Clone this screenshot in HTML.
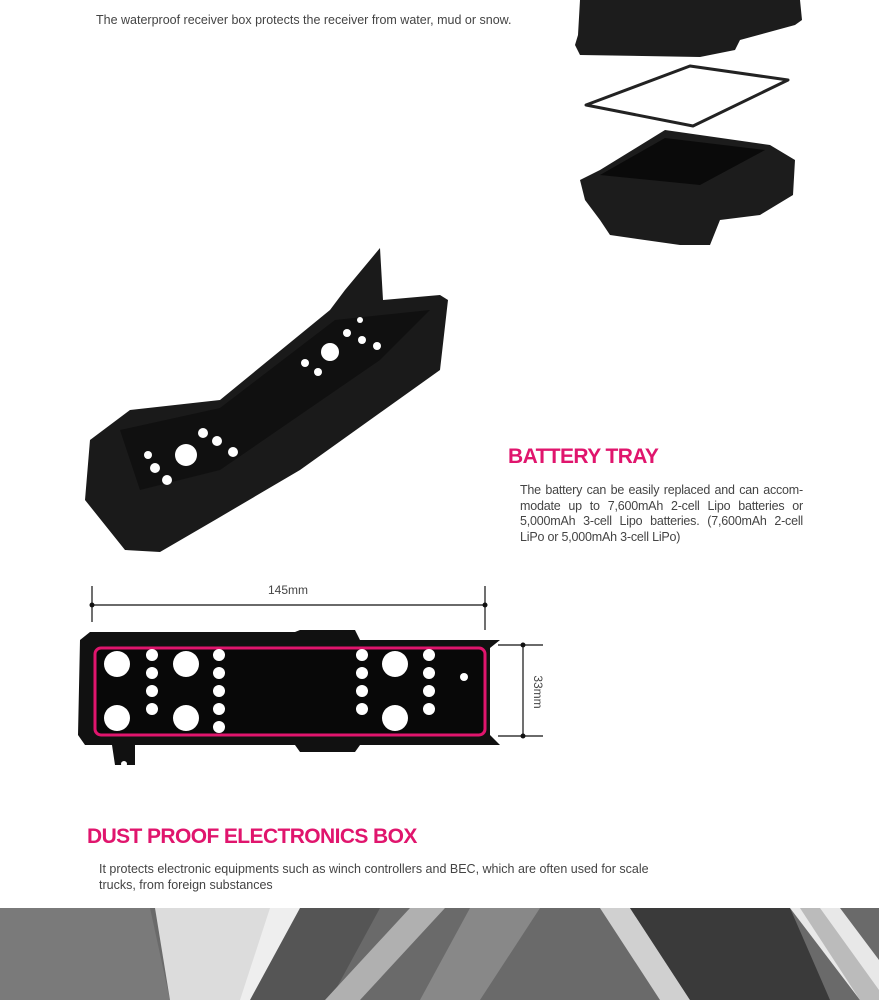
<!DOCTYPE html>
<html><head><meta charset="utf-8"><style>
body{margin:0;width:879px;height:1000px;background:#fff;overflow:hidden;position:relative;font-family:"Liberation Sans",sans-serif}
.t{position:absolute;color:#444;font-size:12.5px;line-height:15.5px}
.h{position:absolute;color:#e0156d;font-weight:bold;font-size:21px;letter-spacing:-0.6px}
.j{display:block;text-align:justify;text-align-last:justify;white-space:nowrap;letter-spacing:-0.2px}
svg{position:absolute;left:0;top:0}
</style></head><body>
<svg width="879" height="1000">
<polygon points="575,45 578,35 580,0 800,0 802,20 795,25 740,40 735,50 700,57 580,55" fill="#1c1c1c"/>
<polygon points="586,105 690,66 788,80 693,126" fill="none" stroke="#222" stroke-width="3" stroke-linejoin="round"/>
<polygon points="580,180 600,170 665,130 700,135 770,145 795,160 793,195 760,215 720,220 710,245 680,245 610,235 600,220 585,200" fill="#1c1c1c"/>
<polygon points="600,175 665,138 765,150 700,185" fill="#0a0a0a"/>
<polygon points="90,440 130,410 220,400 330,310 345,290 380,248 383,300 440,295 448,300 440,370 300,470 215,520 160,552 125,550 85,500" fill="#1a1a1a"/>
<polygon points="120,430 220,408 335,320 430,310 380,360 220,470 140,490" fill="#101010"/>
<g fill="#fff">
<circle cx="186" cy="455" r="11"/><circle cx="155" cy="468" r="5"/><circle cx="167" cy="480" r="5"/><circle cx="203" cy="433" r="5"/><circle cx="217" cy="441" r="5"/><circle cx="233" cy="452" r="5"/><circle cx="148" cy="455" r="4"/>
<circle cx="330" cy="352" r="9"/><circle cx="347" cy="333" r="4"/><circle cx="362" cy="340" r="4"/><circle cx="305" cy="363" r="4"/><circle cx="318" cy="372" r="4"/><circle cx="377" cy="346" r="4"/><circle cx="360" cy="320" r="3"/>
</g>
<g stroke="#111" stroke-width="1.2">
<line x1="92" y1="586" x2="92" y2="622"/><line x1="485" y1="586" x2="485" y2="630"/>
<line x1="92" y1="605" x2="485" y2="605"/>
<line x1="498" y1="645" x2="543" y2="645"/><line x1="498" y1="736" x2="543" y2="736"/>
<line x1="523" y1="645" x2="523" y2="736"/>
</g>
<g fill="#111"><circle cx="92" cy="605" r="2.5"/><circle cx="485" cy="605" r="2.5"/><circle cx="523" cy="645" r="2.5"/><circle cx="523" cy="736" r="2.5"/></g>
<path d="M80,640 L90,632 L295,632 L300,630 L355,630 L360,640 L500,640 L490,648 L490,735 L500,745 L360,745 L355,752 L300,752 L295,745 L135,745 L135,765 L115,765 L112,745 L85,745 L78,735 Z" fill="#111"/>
<rect x="95" y="648" width="390" height="87" rx="6" fill="#080808" stroke="#e0156d" stroke-width="3"/>
<g fill="#fff">
<circle cx="117" cy="664" r="13"/><circle cx="117" cy="718" r="13"/><circle cx="186" cy="664" r="13"/><circle cx="186" cy="718" r="13"/><circle cx="395" cy="664" r="13"/><circle cx="395" cy="718" r="13"/>
<circle cx="152" cy="655" r="6"/><circle cx="152" cy="673" r="6"/><circle cx="152" cy="691" r="6"/><circle cx="152" cy="709" r="6"/>
<circle cx="219" cy="655" r="6"/><circle cx="219" cy="673" r="6"/><circle cx="219" cy="691" r="6"/><circle cx="219" cy="709" r="6"/><circle cx="219" cy="727" r="6"/>
<circle cx="362" cy="655" r="6"/><circle cx="362" cy="673" r="6"/><circle cx="362" cy="691" r="6"/><circle cx="362" cy="709" r="6"/>
<circle cx="429" cy="655" r="6"/><circle cx="429" cy="673" r="6"/><circle cx="429" cy="691" r="6"/><circle cx="429" cy="709" r="6"/>
<circle cx="464" cy="677" r="4"/><circle cx="124" cy="764" r="3"/>
</g>
<text x="288" y="594" font-size="12" fill="#444" text-anchor="middle" font-family="Liberation Sans">145mm</text>
<text x="534" y="692" font-size="12" fill="#444" text-anchor="middle" font-family="Liberation Sans" transform="rotate(90 534 692)">33mm</text>
<rect x="0" y="908" width="879" height="92" fill="#6a6a6a"/>
<polygon points="0,908 150,908 170,1000 0,1000" fill="#7a7a7a"/>
<polygon points="155,908 300,908 330,960 280,1000 170,1000" fill="#dcdcdc"/>
<polygon points="240,1000 270,908 300,908 270,1000" fill="#eee"/>
<polygon points="300,908 380,908 330,1000 250,1000" fill="#555"/>
<polygon points="325,1000 410,908 445,908 360,1000" fill="#b0b0b0"/>
<polygon points="470,908 540,908 480,1000 420,1000" fill="#888"/>
<polygon points="600,908 630,908 690,1000 660,1000" fill="#d0d0d0"/>
<polygon points="630,908 790,908 830,1000 690,1000" fill="#3a3a3a"/>
<polygon points="790,908 840,908 879,960 879,1000 860,1000" fill="#e8e8e8"/>
<polygon points="800,908 820,908 879,990 879,1000 860,1000" fill="#bbb"/>
</svg>
<div class="t" style="left:96px;top:13px">The waterproof receiver box protects the receiver from water, mud or snow.</div>
<div class="h" style="left:508px;top:445px">BATTERY TRAY</div>
<div class="t" style="left:520px;top:483px;width:283px">
<span class="j">The battery can be easily replaced and can accom-</span>
<span class="j">modate up to 7,600mAh 2-cell Lipo batteries or</span>
<span class="j">5,000mAh 3-cell Lipo batteries. (7,600mAh 2-cell</span>
<span style="display:block;letter-spacing:-0.2px">LiPo or 5,000mAh 3-cell LiPo)</span>
</div>
<div class="h" style="left:87px;top:825px">DUST PROOF ELECTRONICS BOX</div>
<div class="t" style="left:99px;top:862px;width:560px">It protects electronic equipments such as winch controllers and BEC, which are often used for scale trucks, from foreign substances</div>
</body></html>
